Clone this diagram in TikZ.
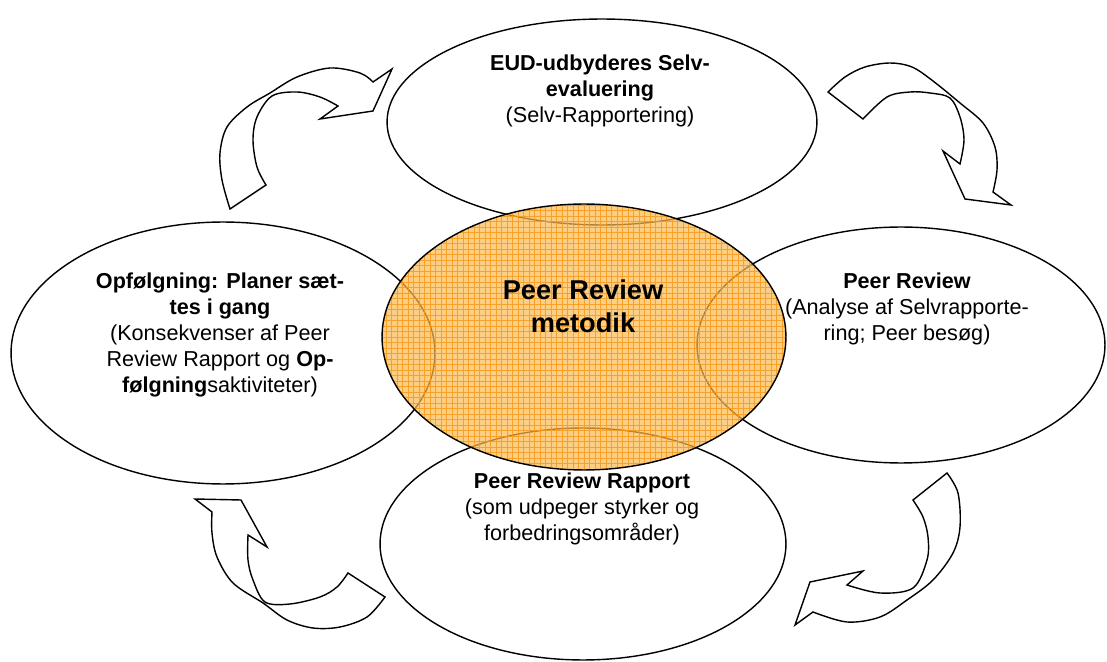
\documentclass[tikz,border=0pt]{standalone}
\usepackage{fontspec}
\setmainfont{Liberation Sans}
\usetikzlibrary{shapes.geometric}
\definecolor{metodfill}{RGB}{252,186,80}
\definecolor{metodgrid}{RGB}{245,150,20}

\begin{document}
\begin{tikzpicture}[x=0.02cm, y=-0.02cm,
phase/.style={ellipse, draw=black, line width=0.8pt, fill=white, inner sep=0pt},
phasetext/.style={align=center, inner sep=0pt, font=\fontsize{12.3}{14.7}\selectfont},
bendarrow/.style={draw=black, line width=0.8pt, fill=white, line join=miter}]
\useasboundingbox (0,0) rectangle (1107,662);

%the four phases round the middle
\node[phase, minimum width=8.6cm, minimum height=4.12cm] (selv) at (602,122) {};
\node[phase, minimum width=8.16cm, minimum height=4.72cm] (review) at (901,345) {};
\node[phase, minimum width=8.12cm, minimum height=4.64cm] (rapport) at (583,544) {};
\node[phase, minimum width=8.48cm, minimum height=5.24cm] (folg) at (223,353) {};

%curved arrows between the phases
\draw[bendarrow] plot[smooth, tension=0.55] coordinates {(230,209) (222,180) (220,153) (227,127) (247,107) (270,93) (297,77) (330,68) (360,73) (373,82)}
	-- (392,69) -- (373,111) -- (320,119) -- (338,106)
	-- plot[smooth, tension=0.55] coordinates {(338,106) (320,97) (297,92) (272,96) (257,117) (253,140) (257,167) (266,185)} -- cycle;
\draw[bendarrow] plot[smooth, tension=0.55] coordinates {(828,92) (845,77) (865,67) (890,63) (912,67) (933,81) (960,103) (983,123) (995,147) (997,170) (993,192)}
	-- (1011,205) -- (965,199) -- (943,151) -- (960,164)
	-- plot[smooth, tension=0.55] coordinates {(960,164) (964,140) (960,117) (950,98) (930,93) (910,92) (887,97) (863,119)} -- cycle;
\draw[bendarrow] plot[smooth, tension=0.55] coordinates {(947,473) (958,493) (960,527) (953,553) (933,580) (907,600) (880,617) (847,622) (813,612)}
	-- (795,625) -- (810,582) -- (863,571) -- (847,585)
	-- plot[smooth, tension=0.55] coordinates {(847,585) (880,593) (913,588) (927,560) (928,537) (923,517) (913,500)} -- cycle;
\draw[bendarrow] plot[smooth, tension=0.55] coordinates {(385,597) (367,617) (340,627) (313,628) (287,620) (263,603) (233,583) (217,557) (212,533) (212,512)}
	-- (195,499) -- (241,500) -- (267,547) -- (248,535)
	-- plot[smooth, tension=0.55] coordinates {(248,535) (248,560) (253,580) (265,602) (290,604) (320,597) (337,587) (348,573)} -- cycle;

%the middle, see-through with a fine grid
\node[ellipse, draw=black, line width=0.8pt, fill=metodfill, fill opacity=0.7,
	minimum width=8.08cm, minimum height=5.32cm,
	path picture={\draw[metodgrid, line width=0.35pt, draw opacity=0.8]
		(path picture bounding box.south west) grid[step=0.11cm] (path picture bounding box.north east);}]
	(metod) at (584,337) {};

%texts
\node[phasetext] (selvtxt) at (600,91) {\textbf{EUD-udbyderes Selv-}\\\textbf{evaluering}\\(Selv-Rapportering)};
\node[phasetext] (reviewtxt) at (907,309) {\textbf{Peer Review}\\(Analyse af Selvrapporte-\\ring; Peer besøg)};
\node[phasetext] (rapporttxt) at (582,509) {\textbf{Peer Review Rapport}\\(som udpeger styrker og\\forbedringsområder)};
\node[phasetext] (folgtxt) at (220,335) {\textbf{Opfølgning: Planer sæt-}\\\textbf{tes i gang}\\(Konsekvenser af Peer\\Review Rapport og \textbf{Op-}\\\textbf{følgning}saktiviteter)};
\node[phasetext, font=\bfseries\fontsize{15.5}{18.7}\selectfont] (metodtxt) at (583,306) {Peer Review\\metodik};
\end{tikzpicture}
\end{document}
